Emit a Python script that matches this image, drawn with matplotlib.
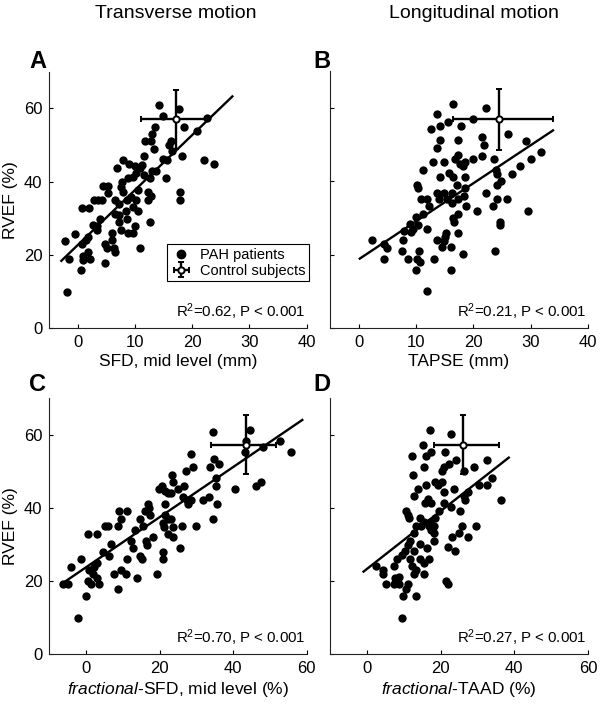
import matplotlib
matplotlib.use("Agg")
import matplotlib.pyplot as plt
from matplotlib.lines import Line2D
import numpy as np

plt.rcParams['font.family'] = ['Liberation Sans', 'DejaVu Sans']
plt.rcParams['mathtext.fontset'] = 'custom'
plt.rcParams['mathtext.rm'] = 'Liberation Sans'
plt.rcParams['mathtext.it'] = 'Liberation Sans:italic'

# ---------------- data ----------------
a_x = [14.2, 17.7, 14.9, 18.6, 22.5, 20.9, 13.4, 12.9, 11.8, 12.7, 16.2, 16.0, 13.3, 18.2, 11.6, 14.9,
       15.5, 22.1, 23.8, 15.4, 13.7, 13.0, 11.6, 12.6, 7.8, 6.8, 9.0, 10.0, 10.9, 11.2, 10.2, 9.6, 8.8,
       7.7, 7.5, 7.8, 4.4, 5.3, 5.2, 10.5, 12.3, 12.7, 12.2, 17.8, 17.9, 6.5, 7.1, 8.5, 9.3, 10.2, 9.6,
       10.5, 8.4, 6.5, 7.2, 8.5, 7.1, 12.6, 2.8, 3.6, 4.2, 3.9, 2.6, 3.4, 3.4, 0.8, 1.9, 5.9, 5.9, 7.5,
       8.8, 9.6, 10.0, 10.9, 4.8, 5.1, 6.3, 6.5, 4.8, 1.8, 1.5, 0.7, 1.8, 0.9, 0.9, 2.2, -0.5, 0.5,
       -1.9, -2.2, -1.5, 16.4]
a_y = [60.9, 59.8, 57.8, 54.9, 57.3, 53.9, 55.0, 53.0, 51.0, 51.0, 51.0, 49.9, 48.8, 47.0, 47.0, 46.2,
       46.0, 46.0, 44.9, 41.0, 42.8, 42.8, 41.9, 41.0, 46.0, 43.8, 44.9, 44.4, 43.8, 44.6, 42.3, 41.3, 41.0,
       39.9, 38.5, 37.2, 38.8, 38.8, 36.9, 37.8, 37.2, 36.0, 34.9, 37.2, 34.9, 34.9, 34.0, 34.9, 35.8, 34.9,
       33.1, 32.0, 32.0, 31.3, 31.0, 29.9, 29.0, 29.0, 34.9, 34.9, 34.9, 29.9, 28.1, 27.8, 26.7, 32.8, 32.8,
       26.0, 24.0, 26.9, 26.0, 26.0, 27.9, 22.0, 22.9, 21.8, 21.8, 20.9, 17.9, 24.9, 24.0, 23.1, 20.9, 19.7,
       18.6, 18.9, 25.8, 15.9, 9.8, 23.8, 19.0, 48.5]

b_x = [16.4, 22.2, 13.7, 20.0, 15.5, 14.2, 12.6, 17.9, 26.0, 21.5, 21.9, 14.2, 17.4, 13.6, 29.1, 31.8,
       30.1, 28.1, 26.7, 23.6, 21.5, 19.9, 17.4, 16.8, 17.6, 18.2, 18.6, 14.8, 13.0, 11.3, 14.1, 15.8, 16.5,
       18.5, 17.1, 24.0, 24.1, 24.9, 24.2, 10.1, 10.4, 13.6, 14.8, 16.2, 18.5, 18.4, 10.9, 11.9, 14.0, 15.4,
       16.2, 17.4, 22.2, 24.2, 25.8, 23.4, 12.3, 18.7, 20.6, 29.5, 11.3, 17.3, 10.0, 16.4, 16.6, 24.6, 24.7,
       8.9, 10.4, 9.5, 11.9, 7.9, 9.2, 17.3, 15.2, 15.1, 7.8, 13.7, 14.8, 14.5, 16.1, 2.4, 4.4, 5.0, 7.6,
       10.6, 23.7, 18.2, 4.5, 8.6, 10.2, 10.7, 13.2, 10.0, 16.1, 11.9]
b_y = [61.1, 60.0, 58.2, 57.0, 56.1, 55.0, 54.1, 55.0, 52.9, 52.0, 49.9, 51.2, 51.2, 49.1, 51.0, 48.0,
       46.0, 44.0, 41.9, 46.0, 46.9, 46.0, 47.1, 46.0, 44.8, 44.0, 45.1, 45.1, 45.1, 43.0, 41.0, 42.1, 41.0,
       41.0, 39.0, 43.0, 41.9, 40.1, 38.9, 39.0, 38.0, 36.9, 36.9, 36.9, 38.0, 36.0, 35.0, 35.0, 35.0, 35.0,
       34.0, 35.0, 36.9, 35.0, 35.0, 33.1, 33.1, 33.1, 32.0, 32.0, 31.1, 31.1, 30.2, 29.9, 28.8, 29.0, 28.1,
       28.4, 28.1, 27.0, 27.0, 26.3, 26.1, 25.9, 25.8, 24.8, 24.0, 24.0, 23.8, 22.0, 22.0, 24.0, 22.9, 21.9,
       21.0, 21.0, 21.1, 20.1, 18.9, 18.9, 18.9, 18.0, 18.9, 15.9, 15.9, 10.0]

c_x = [34.5, 44.6, 43.4, 43.2, 52.8, 55.6, 48.1, 34.8, 36.2, 33.6, 28.5, 29.1, 27.1, 23.3, 23.6, 35.2,
       35.4, 35.7, 34.6, 33.5, 31.8, 40.6, 46.2, 47.6, 25.1, 26.7, 19.8, 20.6, 21.5, 22.2, 23.1, 26.4, 27.4,
       27.6, 28.5, 21.5, 16.8, 17.0, 16.1, 17.5, 11.2, 9.0, 9.4, 14.7, 15.6, 8.7, 6.0, 5.1, 21.5, 22.2, 23.1,
       20.8, 21.1, 23.6, 26.1, 29.8, 22.2, 23.6, 18.2, 16.4, 16.6, 13.2, 12.1, 12.8, 6.9, 0.4, 2.9, 25.6,
       20.8, 20.8, 4.7, 6.3, 14.8, 15.1, 11.2, 10.8, 7.6, 9.6, 13.9, 19.2, -1.4, -4.0, 0.9, 2.2, 3.1, 2.0,
       0.4, 1.3, 3.1, 3.5, -6.3, -4.8, 0.0, 8.7, -2.2]
c_y = [60.9, 61.3, 58.4, 55.4, 58.2, 55.3, 56.6, 53.4, 52.1, 51.1, 54.9, 51.1, 50.0, 49.0, 47.1, 48.1,
       46.0, 41.0, 37.1, 43.0, 42.1, 45.1, 46.0, 47.1, 45.1, 46.0, 45.1, 46.0, 44.6, 44.2, 44.2, 43.0, 42.1,
       41.0, 42.1, 41.0, 41.0, 40.1, 39.2, 38.0, 39.2, 39.2, 37.1, 37.1, 35.1, 35.1, 35.1, 35.1, 38.0, 36.9,
       37.1, 36.0, 34.8, 34.8, 35.1, 35.1, 33.0, 32.1, 32.1, 31.0, 30.0, 33.9, 31.0, 29.0, 30.1, 33.0, 33.0,
       29.0, 28.1, 26.1, 28.1, 27.0, 27.0, 26.1, 26.1, 22.0, 22.0, 23.1, 20.9, 22.0, 26.1, 24.0, 23.1, 24.0,
       24.9, 22.0, 20.0, 19.1, 20.9, 19.1, 19.1, 19.1, 15.9, 17.9, 10.0]

d_x = [17.2, 22.8, 15.2, 17.4, 16.1, 12.2, 21.1, 24.3, 32.6, 22.2, 20.8, 20.4, 15.6, 29.0, 26.3, 12.5,
       34.0, 32.6, 30.3, 18.4, 20.4, 19.3, 16.1, 13.8, 23.6, 12.9, 21.0, 16.7, 15.8, 17.5, 20.8, 19.6, 22.8,
       26.3, 27.4, 26.6, 36.5, 25.4, 10.7, 11.1, 11.3, 14.5, 15.4, 17.2, 18.5, 13.4, 14.7, 16.8, 18.1, 25.8,
       29.6, 17.5, 18.1, 24.9, 23.1, 27.4, 12.7, 11.8, 18.3, 14.5, 11.1, 10.4, 12.7, 16.3, 22.1, 23.8, 9.5,
       8.2, 11.8, 14.5, 16.8, 15.4, 12.2, 13.2, 7.4, 12.7, 15.6, 2.5, 4.3, 4.5, 5.3, 7.7, 8.6, 7.4, 8.8,
       11.1, 10.7, 9.7, 13.3, 21.5, 21.9, 9.5]
d_y = [61.2, 60.2, 57.2, 55.2, 54.2, 54.1, 55.2, 53.2, 53.2, 52.1, 51.1, 50.0, 51.1, 51.1, 50.0, 49.1,
       48.1, 46.2, 46.2, 47.1, 47.1, 46.2, 46.2, 45.1, 45.1, 43.1, 44.2, 42.4, 41.2, 41.2, 41.2, 39.2, 40.1,
       43.1, 44.2, 42.1, 42.1, 39.2, 39.2, 38.1, 37.1, 37.1, 36.0, 36.0, 37.1, 35.1, 35.1, 35.1, 35.1, 35.1,
       35.1, 34.0, 33.0, 33.0, 32.1, 32.1, 33.0, 31.0, 31.0, 30.1, 29.9, 28.1, 28.1, 29.0, 29.2, 28.1, 27.0,
       26.1, 26.1, 26.1, 26.1, 25.0, 24.0, 23.1, 24.0, 22.0, 22.0, 24.0, 23.1, 22.0, 19.1, 20.9, 21.1, 19.1,
       19.1, 19.1, 17.9, 15.9, 15.9, 20.0, 19.1, 10.0]

# control subjects: mean, x error (minus, plus), y error
ctrl_x = [17.1, 24.4, 43.6, 26.0]
ctrl_xerr_lo = [6.0, 8.0, 9.5, 7.9]
ctrl_xerr_hi = [5.5, 9.5, 8.1, 9.8]
ctrl_y = [57.0, 56.8, 57.3, 57.3]
ctrl_yerr = [8.1, 8.2, 8.1, 8.1]

# regression lines: slope, intercept, x-start, x-end
reg_slope = [1.50, 1.036, 0.685, 0.79]
reg_icpt = [22.75, 18.7, 23.8, 23.3]
reg_x0 = [-2.9, 0.2, -5.6, -0.9]
reg_x1 = [27.0, 33.9, 58.8, 38.5]

stats_text = [r'R$^2$=0.62, P < 0.001', r'R$^2$=0.21, P < 0.001',
              r'R$^2$=0.70, P < 0.001', r'R$^2$=0.27, P < 0.001']
xlabels = ['SFD, mid level (mm)', 'TAPSE (mm)',
           r'$\mathit{fractional}$-SFD, mid level (%)', r'$\mathit{fractional}$-TAAD (%)']
panel_letters = ['A', 'B', 'C', 'D']
xlims = [(-5, 40), (-5, 40), (-10, 60), (-10, 60)]
xticks = [[0, 10, 20, 30, 40], [0, 10, 20, 30, 40], [0, 20, 40, 60], [0, 20, 40, 60]]
yticks = [0, 20, 40, 60]

# ---------------- figure ----------------
W, H = 600, 708
fig = plt.figure(figsize=(6.0, 7.08), dpi=100)

def fr(l, r, t, b):
    return [l / W, 1 - b / H, (r - l) / W, (b - t) / H]

rects = [fr(49.3, 306.7, 71.7, 328.3), fr(330, 588, 71.0, 328.0),
         fr(49.3, 306.7, 398.3, 654.3), fr(330, 588, 398.0, 654.3)]
xs = [a_x, b_x, c_x, d_x]
ys = [a_y, b_y, c_y, d_y]

handles = None
for i in range(4):
    ax = fig.add_axes(rects[i])
    ax.scatter(xs[i], ys[i], s=36, color='black', zorder=3, linewidths=0)
    lx = np.array([reg_x0[i], reg_x1[i]])
    ax.plot(lx, reg_slope[i] * lx + reg_icpt[i], color='black', lw=1.7, zorder=4)
    eb = ax.errorbar([ctrl_x[i]], [ctrl_y[i]],
                     xerr=[[ctrl_xerr_lo[i]], [ctrl_xerr_hi[i]]],
                     yerr=[[ctrl_yerr[i]], [ctrl_yerr[i]]],
                     fmt='o', mfc='white', mec='black', mew=1.4, ms=4.5,
                     ecolor='black', elinewidth=1.7, capsize=2.5, capthick=1.7, zorder=5)
    ax.set_xlim(*xlims[i])
    ax.set_ylim(0, 70)
    ax.set_xticks(xticks[i])
    ax.set_yticks(yticks)
    for s in ['top', 'right']:
        ax.spines[s].set_visible(False)
    for s in ['left', 'bottom']:
        ax.spines[s].set_linewidth(0.8)
        ax.spines[s].set_color('#222222')
    ax.tick_params(direction='in', length=3, width=0.8, labelsize=12, pad=5)
    if i % 2 == 1:
        ax.set_yticklabels([])
    else:
        ax.set_ylabel('RVEF (%)', fontsize=12.5, labelpad=4)
    ax.set_xlabel(xlabels[i], fontsize=12.5, labelpad=3)
    ax.text(0.995, 0.025, stats_text[i], transform=ax.transAxes,
            ha='right', va='bottom', fontsize=10.8)
    if i == 0:
        pah = Line2D([], [], marker='o', color='black', linestyle='none', markersize=6)
        handles = [pah, eb]

fig.legend(handles, ['PAH patients', 'Control subjects'],
           loc='upper left', bbox_to_anchor=(166.7 / W, 1 - 244 / H),
           bbox_transform=fig.transFigure, fontsize=10.5, frameon=True,
           fancybox=False, edgecolor='black', framealpha=1,
           borderpad=0.25, handlelength=1.5, handletextpad=0.5, labelspacing=0.15,
           borderaxespad=0)
leg = fig.legends[0]
leg.get_frame().set_linewidth(0.8)

# titles and panel letters
fig.text(176 / W, 1 - 14 / H, 'Transverse motion', ha='center', va='center', fontsize=14)
fig.text(474 / W, 1 - 14 / H, 'Longitudinal motion', ha='center', va='center', fontsize=14)
for (lt, px, py) in zip(panel_letters, [38, 322, 38, 322], [62, 62, 385, 385]):
    fig.text(px / W, 1 - py / H, lt, ha='center', va='center', fontsize=17, fontweight='bold')

fig.savefig('out.png', dpi=100)
